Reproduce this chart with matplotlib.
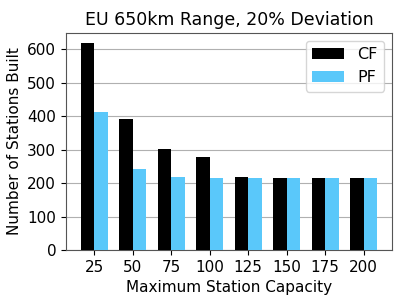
import numpy as np
import matplotlib
matplotlib.use("Agg")
import matplotlib.pyplot as plt

capacities = ['25', '50', '75', '100', '125', '150', '175', '200']
cf_counts = [618, 391, 302, 277, 218, 216, 216, 216]
pf_counts = [414, 243, 218, 216, 216, 216, 216, 216]

x = np.arange(len(capacities))
width = 0.35

fig = plt.figure(figsize=(4.07, 3.05), dpi=100)
ax = fig.add_axes([0.162, 0.18, 0.801, 0.712])

ax.bar(x - width / 2, cf_counts, width, color='black', label='CF', zorder=3)
ax.bar(x + width / 2, pf_counts, width, color='#5AC8FA', label='PF', zorder=3)

ax.set_xticks(x)
ax.set_xticklabels(capacities)
ax.tick_params(labelsize=11)
ax.set_xlabel('Maximum Station Capacity', fontsize=11)
ax.set_ylabel('Number of Stations Built', fontsize=11)
ax.set_title('EU 650km Range, 20% Deviation', fontsize=12.5)
ax.yaxis.grid(True, color='#b0b0b0', zorder=0)
ax.set_axisbelow(True)
for s in ax.spines.values():
    s.set_color('#555555')
ax.legend(loc='upper right', fontsize=11.5)

fig.savefig('out.png', dpi=100)
